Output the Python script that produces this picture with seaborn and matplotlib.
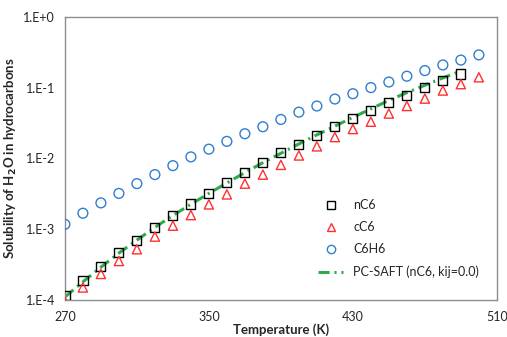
import numpy as np
import pandas as pd
import seaborn as sns
import matplotlib.pyplot as plt
from matplotlib.lines import Line2D
from matplotlib.ticker import FixedLocator, FuncFormatter

sns.set_style('white')
plt.rcParams['font.family'] = ['Lato', 'DejaVu Sans']
plt.rcParams['lines.scale_dashes'] = False

temps_nc6 = list(range(270, 500, 10))
nc6 = [1.15e-4, 1.86e-4, 2.96e-4, 4.66e-4, 7.0e-4, 1.06e-3, 1.55e-3, 2.27e-3,
       3.2e-3, 4.6e-3, 6.3e-3, 8.7e-3, 0.012, 0.0159, 0.0213, 0.028, 0.037,
       0.048, 0.062, 0.078, 0.10, 0.126, 0.156]

temps_all = list(range(270, 510, 10))
cc6 = [9.5e-5, 1.5e-4, 2.33e-4, 3.55e-4, 5.2e-4, 7.85e-4, 1.12e-3, 1.58e-3,
       2.24e-3, 3.1e-3, 4.4e-3, 5.9e-3, 8.1e-3, 0.011, 0.0148, 0.020, 0.026,
       0.033, 0.043, 0.055, 0.070, 0.091, 0.112, 0.14]
c6h6 = [1.17e-3, 1.68e-3, 2.35e-3, 3.2e-3, 4.4e-3, 5.9e-3, 7.9e-3, 0.0105,
        0.0135, 0.0174, 0.0223, 0.028, 0.0355, 0.045, 0.055, 0.069, 0.082,
        0.10, 0.12, 0.145, 0.174, 0.209, 0.245, 0.29]

temps_model = list(range(270, 500, 10))
pcsaft = [1.1e-4, 1.8e-4, 2.9e-4, 4.6e-4, 7.0e-4, 1.06e-3, 1.56e-3, 2.25e-3,
          3.2e-3, 4.5e-3, 6.3e-3, 8.7e-3, 0.0118, 0.016, 0.0215, 0.0285, 0.038,
          0.050, 0.066, 0.085, 0.108, 0.137, 0.172]

df_n = pd.DataFrame({'T': temps_nc6, 'x': nc6})
df_c = pd.DataFrame({'T': temps_all, 'x': cc6})
df_b = pd.DataFrame({'T': temps_all, 'x': c6h6})
df_m = pd.DataFrame({'T': temps_model, 'x': pcsaft})

fig = plt.figure(figsize=(5.07, 3.37), dpi=100)
ax = fig.add_axes([0.128, 0.110, 0.852, 0.840])

green = '#2eac4c'
red = '#ff3030'
blue = '#2f7fcf'
dash = (0, (8, 3.5, 1.5, 3.5))

sns.lineplot(data=df_m, x='T', y='x', ax=ax, color=green, lw=2.2, zorder=2, legend=False)
ax.lines[-1].set_linestyle(dash)
ax.lines[-1].set_dash_capstyle('butt')
sns.scatterplot(data=df_n, x='T', y='x', ax=ax, marker='s', s=44,
                facecolor='none', edgecolor='black', linewidth=1.0, zorder=3)
sns.scatterplot(data=df_c, x='T', y='x', ax=ax, marker='^', s=44,
                facecolor='none', edgecolor=red, linewidth=1.0, zorder=3)
sns.scatterplot(data=df_b, x='T', y='x', ax=ax, marker='o', s=50,
                facecolor='none', edgecolor=blue, linewidth=1.0, zorder=3)

ax.set_yscale('log')
ax.set_xlim(270, 510)
ax.set_ylim(1e-4, 1)
ax.xaxis.set_major_locator(FixedLocator([270, 350, 430, 510]))
ax.yaxis.set_major_locator(FixedLocator([1e-4, 1e-3, 1e-2, 1e-1, 1]))
ax.yaxis.set_minor_locator(FixedLocator([]))
ax.yaxis.set_major_formatter(FuncFormatter(
    lambda v, p: '1.E+0' if v >= 1 else '1.E%d' % round(np.log10(v))))

for s in ax.spines.values():
    s.set_color('#8c8c8c')
    s.set_linewidth(1.0)
ax.tick_params(axis='y', which='major', direction='out', length=4, width=1,
               color='#8c8c8c', labelsize=9, pad=3)
ax.tick_params(axis='x', which='major', direction='in', length=4, width=1,
               color='#8c8c8c', labelsize=9, pad=8)

ax.set_xlabel('Temperature (K)', fontsize=9.5, fontweight='bold', labelpad=0)
ax.set_ylabel('Solubility of H$_\\mathbf{2}$O in hydrocarbons', fontsize=9.5,
              fontweight='bold', labelpad=3)

handles = [
    Line2D([], [], ls='none', marker='s', ms=6, mfc='none', mec='black', mew=1.0),
    Line2D([], [], ls='none', marker='^', ms=6, mfc='none', mec=red, mew=1.0),
    Line2D([], [], ls='none', marker='o', ms=6, mfc='none', mec=blue, mew=1.0),
    Line2D([], [], color=green, lw=2.2, ls=dash, dash_capstyle='butt'),
]
labels = ['nC6', 'cC6', 'C6H6', 'PC-SAFT (nC6, kij=0.0)']
ax.legend(handles, labels, loc='upper left', bbox_to_anchor=(0.56, 0.395),
          frameon=False, fontsize=9, handlelength=2.0, handletextpad=0.8,
          labelspacing=0.8)

fig.savefig('out.png', dpi=100)
